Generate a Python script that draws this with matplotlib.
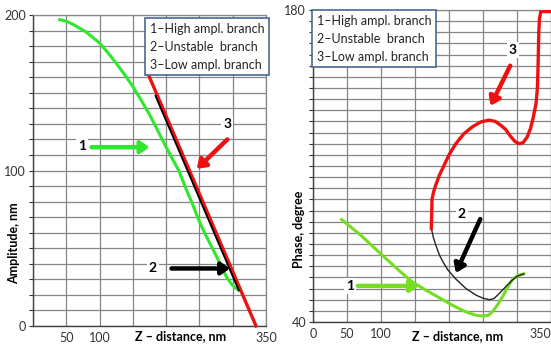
import matplotlib
matplotlib.use('Agg')
import matplotlib.pyplot as plt
import numpy as np

plt.rcParams['font.family'] = ['Lato', 'DejaVu Sans']

# left panel: amplitude vs Z
amp_green_z = [40, 50, 60, 70, 80, 90, 100, 112, 125, 137, 150, 162, 175, 187, 200,
               210, 219, 230, 240, 250, 260, 270, 280, 290, 298, 304, 309]
amp_green = [197, 196, 194, 191.5, 189, 185.5, 182, 176, 169, 162, 154, 145.5, 136, 126, 115,
             107, 100, 88, 78, 67, 58, 49.5, 41, 32, 27, 24.5, 23]
amp_red_z = [172, 335]
amp_red = [163, 0]
amp_black_z = [184, 214, 244, 274, 300, 309]
amp_black = [148, 118, 88, 58, 32, 23]

# right panel: phase vs Z
ph_green_z = [42, 70, 100, 125, 146, 165, 185, 205, 225, 240, 250, 258, 265, 272, 280,
              287, 294, 302, 310]
ph_green = [86, 79, 70.5, 63.5, 58, 54.5, 51, 47.5, 44.5, 43, 42.7, 43, 45, 48, 52,
            56, 59.3, 61, 61.6]
ph_black_z = [174, 177, 180, 186, 192, 198, 210, 225, 240, 250, 259, 266, 273, 283, 292, 300, 310]
ph_black = [82, 78, 75, 70, 66.5, 63.5, 59.3, 55, 52, 50.7, 50, 50.5, 52.5, 55.7, 58.5, 60.5, 61.6]
ph_red_z = [174, 174.5, 175, 177, 180, 186, 190, 200, 210, 222, 234, 247, 259, 268, 276,
            283, 290, 297, 303, 309, 315, 320, 324, 328, 330, 331, 332, 333, 335, 352]
ph_red = [82, 88, 95, 98, 101, 106, 108.5, 115, 120, 124.5, 127.5, 129.8, 130.6, 130, 128.3,
          126.5, 123.5, 121, 120, 120.5, 123, 127, 132, 138, 145, 155, 169.7, 176, 179.3, 179.3]

legend_text = "1\u2013High ampl. branch\n2\u2013Unstable  branch\n3\u2013Low ampl. branch"
xlab = "Z \u2013 distance, nm"

W, H = 551, 344
fig = plt.figure(figsize=(W / 100, H / 100), dpi=100)

def px(x0, y0, x1, y1):
    return [x0 / W, 1 - y1 / H, (x1 - x0) / W, (y1 - y0) / H]

GRID = '#858585'
AX = '#404040'
GREEN1 = '#2ee82e'
GREEN2 = '#77dd22'
RED = '#ee1111'

def style(ax, xt_labels):
    ax.set_xticks(np.arange(0, 351, 50))
    ax.set_xticklabels(xt_labels)
    ax.grid(True, color=GRID, lw=0.9)
    ax.set_axisbelow(True)
    for s in ['top', 'right']:
        ax.spines[s].set_color(GRID)
        ax.spines[s].set_linewidth(0.9)
    for s in ['left', 'bottom']:
        ax.spines[s].set_color(AX)
        ax.spines[s].set_linewidth(1.0)
    ax.tick_params(axis='both', labelsize=9, colors='#333333', length=3, pad=2,
                   width=0.8)
    ax.tick_params(axis='x', length=0, pad=4)

def legend_box(ax, x, y):
    ax.text(x, y, legend_text, transform=ax.transAxes, fontsize=9,
            va='top', ha='left', linespacing=1.6, color='#222222', zorder=7,
            bbox=dict(boxstyle='square,pad=0.35', facecolor='white',
                      edgecolor='#4a6896', lw=1.2))

def label(ax, x, y, s):
    ax.text(x, y, s, fontsize=10, fontweight='bold', ha='center', va='center',
            bbox=dict(facecolor='white', edgecolor='none', pad=1.5), zorder=6)

def arrow(ax, start, end, color):
    ax.annotate('', xy=end, xytext=start,
                arrowprops=dict(arrowstyle='-|>,head_width=0.35,head_length=0.5',
                                color=color, lw=3.2, shrinkA=0, shrinkB=0),
                zorder=6)

# ---- left
ax1 = fig.add_axes(px(33, 15, 266, 326))
ax1.set_xlim(0, 350)
ax1.set_ylim(0, 200)
ax1.set_yticks(np.arange(0, 201, 10))
ax1.set_yticklabels([str(v) if v % 100 == 0 else '' for v in range(0, 201, 10)])
style(ax1, ['', '50', '100', '', '', '', '', '350'])
ax1.plot(amp_green_z, amp_green, color=GREEN1, lw=2.2, zorder=3)
ax1.plot(amp_red_z, amp_red, color=RED, lw=2.4, zorder=4, clip_on=False)
ax1.plot(amp_black_z, amp_black, color='black', lw=1.3, zorder=5)
legend_box(ax1, 0.5, 0.975)
label(ax1, 73, 116, '1')
arrow(ax1, (88, 115), (175, 115), GREEN1)
label(ax1, 292, 130, '3')
arrow(ax1, (292, 120), (246, 101), RED)
label(ax1, 180, 37, '2')
arrow(ax1, (208, 37), (296, 37), 'black')

# ---- right
ax2 = fig.add_axes(px(313, 10, 551, 322))
ax2.set_xlim(0, 350)
ax2.set_ylim(40, 180)
ax2.set_yticks(np.arange(40, 181, 5))
ax2.set_yticklabels([str(v) if v in (40, 180) else '' for v in range(40, 181, 5)])
style(ax2, ['0', '50', '100', '', '', '', '', '350'])
ax2.get_xticklabels()[-1].set_ha('right')
ax2.plot(ph_green_z, ph_green, color=GREEN2, lw=2.2, zorder=3)
ax2.plot(ph_black_z, ph_black, color='#222222', lw=1.0, zorder=3)
ax2.plot(ph_red_z, ph_red, color=RED, lw=2.4, zorder=4)
legend_box(ax2, 0.015, 0.985)
label(ax2, 54, 56.2, '1')
arrow(ax2, (66, 56.2), (156, 56.2), GREEN2)
label(ax2, 219, 88.5, '2')
arrow(ax2, (246, 86.2), (210, 62), 'black')
label(ax2, 294, 162, '3')
arrow(ax2, (290, 155), (261, 137), RED)

# axis titles
fig.text(181 / W, 1 - 336 / H, xlab, fontsize=9, fontweight='bold', ha='center', va='center')
fig.text(458 / W, 1 - 336 / H, xlab, fontsize=9, fontweight='bold', ha='center', va='center')
fig.text(14 / W, 1 - 243 / H, 'Amplitude, nm', fontsize=9, fontweight='bold',
         rotation=90, ha='center', va='center')
fig.text(299 / W, 1 - 229 / H, 'Phase, degree', fontsize=9, fontweight='bold',
         rotation=90, ha='center', va='center')

fig.savefig('out.png', dpi=100, facecolor='white')
